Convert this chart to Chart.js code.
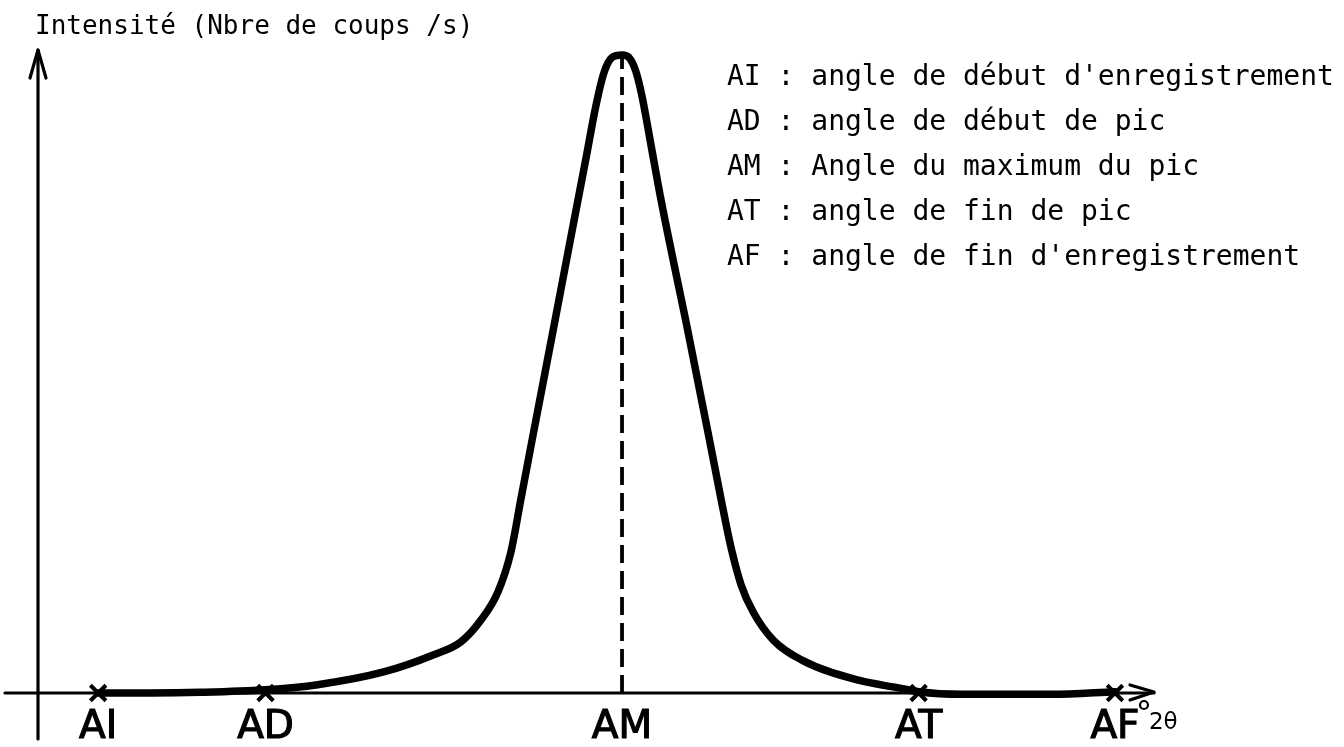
<!DOCTYPE html>
<html lang="fr">
<head>
<meta charset="utf-8">
<title>Profil d'un pic de diffraction</title>
<script src="https://cdn.jsdelivr.net/npm/chart.js@4.4.1/dist/chart.umd.min.js"></script>
<style>
  html, body { margin: 0; padding: 0; background: #ffffff; }
  #wrap { width: 1344px; height: 747px; }
  canvas { display: block; }
</style>
</head>
<body>
<div id="wrap"><canvas id="pic" width="1344" height="747"></canvas></div>
<script>
// Angles repères (2θ, degrés) et leurs noms
const angleNames = ['AI', 'AD', 'AM', 'AT', 'AF'];
const angleValues = [2.16, 8.17, 20.97, 31.62, 38.67];

// Profil du pic : angle 2θ et intensité relative (%)
const profileAngle = [
  2.16, 4.03, 5.83, 8.17, 10.04, 12.41, 14.21, 15.18, 15.90, 16.51,
  16.98, 17.34, 17.77, 18.49, 19.21, 19.68, 20.04, 20.32, 20.61, 20.97,
  21.22, 21.47, 21.69, 22.01, 22.37, 23.35, 24.06, 24.53, 24.89, 25.25,
  25.68, 26.40, 27.41, 29.46, 30.90, 31.62, 33.17, 34.60, 36.40, 38.67
];
const profileIntensity = [
  0.0, 0.0, 0.1, 0.5, 1.3, 3.3, 6.0, 8.0, 11.4, 15.8,
  22.1, 30.4, 40.3, 56.7, 73.2, 83.9, 92.2, 97.2, 99.6, 100.0,
  99.6, 97.4, 93.5, 85.9, 77.3, 56.4, 40.8, 30.3, 22.7, 16.9,
  12.7, 8.3, 5.2, 2.0, 0.8, 0.2, -0.2, -0.2, -0.2, 0.2
];
const peakIntensity = 100;

// Légende des abréviations
const legendLines = [
  "AI : angle de début d'enregistrement",
  "AD : angle de début de pic",
  "AM : Angle du maximum du pic",
  "AT : angle de fin de pic",
  "AF : angle de fin d'enregistrement"
];
const yTitle = 'Intensité (Nbre de coups /s)';
const xUnit = '2θ';

const INK = '#000000';
const MONO = '"DejaVu Sans Mono", "Liberation Mono", monospace';
const SANS = '"DejaVu Sans", "Liberation Sans", sans-serif';

const profilePoints = profileAngle.map((a, i) => ({ x: a, y: profileIntensity[i] }));
const markerPoints = angleValues.filter((_, i) => angleNames[i] !== 'AM').map(a => ({ x: a, y: 0 }));
const amAngle = angleValues[angleNames.indexOf('AM')];
const peakLine = [{ x: amAngle, y: 0 }, { x: amAngle, y: peakIntensity }];

// Axes dessinés à la main, avec flèches
const axesPlugin = {
  id: 'handAxes',
  beforeDatasetsDraw(chart) {
    const { ctx } = chart;
    const xs = chart.scales.x, ys = chart.scales.y;
    const x0 = xs.getPixelForValue(0);
    const y0 = ys.getPixelForValue(0);
    ctx.save();
    ctx.strokeStyle = INK;
    ctx.lineCap = 'round';
    ctx.lineJoin = 'round';
    ctx.lineWidth = 3.2;
    // axe des intensités
    const yTop = ys.top - 5;
    ctx.beginPath();
    ctx.moveTo(x0, chart.height - 8);
    ctx.lineTo(x0, yTop);
    ctx.stroke();
    ctx.beginPath();
    ctx.moveTo(x0 - 8, yTop + 28);
    ctx.lineTo(x0, yTop);
    ctx.lineTo(x0 + 8, yTop + 28);
    ctx.stroke();
    // axe des angles
    const xEnd = xs.right + 2;
    ctx.beginPath();
    ctx.moveTo(5, y0);
    ctx.lineTo(xEnd, y0);
    ctx.stroke();
    ctx.beginPath();
    ctx.moveTo(xEnd - 24, y0 - 8);
    ctx.lineTo(xEnd, y0 - 1);
    ctx.lineTo(xEnd - 24, y0 + 7);
    ctx.stroke();
    ctx.restore();
  }
};

// Textes : titre de l'axe, légende, unité
const textPlugin = {
  id: 'annotations',
  afterDraw(chart) {
    const { ctx } = chart;
    const xs = chart.scales.x, ys = chart.scales.y;
    ctx.save();
    ctx.fillStyle = INK;
    ctx.textBaseline = 'alphabetic';
    ctx.textAlign = 'left';
    ctx.font = '26px ' + MONO;
    ctx.fillText(yTitle, 35, 34);

    ctx.font = '28px ' + MONO;
    legendLines.forEach((line, i) => {
      ctx.fillText(line, 727, 85 + i * 45);
    });

    // unité sur l'axe des angles
    const afX = xs.getPixelForValue(angleValues[4]);
    const y0 = ys.getPixelForValue(0);
    ctx.lineWidth = 2.2;
    ctx.strokeStyle = INK;
    ctx.beginPath();
    ctx.arc(afX + 29, y0 + 12, 4, 0, Math.PI * 2);
    ctx.stroke();
    ctx.font = '23px ' + SANS;
    ctx.fillText(xUnit, afX + 34, y0 + 36);
    ctx.restore();
  }
};

new Chart(document.getElementById('pic'), {
  type: 'scatter',
  data: {
    datasets: [
      {
        label: 'AM',
        data: peakLine,
        showLine: true,
        borderColor: INK,
        borderWidth: 3.8,
        borderDash: [18, 8],
        pointRadius: 0,
        clip: false,
        order: 3
      },
      {
        label: 'Intensité',
        data: profilePoints,
        showLine: true,
        borderColor: INK,
        borderWidth: 7.5,
        cubicInterpolationMode: 'monotone',
        borderCapStyle: 'round',
        borderJoinStyle: 'round',
        pointRadius: 0,
        clip: false,
        order: 2
      },
      {
        label: 'Repères',
        data: markerPoints,
        showLine: false,
        pointStyle: 'crossRot',
        pointRadius: 11,
        borderColor: INK,
        borderWidth: 4,
        clip: false,
        order: 1
      }
    ]
  },
  options: {
    responsive: false,
    animation: false,
    devicePixelRatio: 1,
    layout: { padding: { left: 38, right: 192, top: 55, bottom: 0 } },
    plugins: {
      legend: { display: false },
      tooltip: { enabled: false },
      title: { display: false }
    },
    scales: {
      x: {
        type: 'linear',
        min: 0,
        max: 40,
        grid: { display: false },
        border: { display: false },
        afterFit(scale) { scale.height = 54; },
        afterBuildTicks(scale) {
          scale.ticks = angleValues.map(v => ({ value: v }));
        },
        ticks: {
          autoSkip: false,
          maxRotation: 0,
          padding: 7,
          color: INK,
          textStrokeColor: INK,
          textStrokeWidth: 1.2,
          font: { family: SANS, size: 39, lineHeight: 1 },
          callback(value) {
            const i = angleValues.indexOf(value);
            return i >= 0 ? angleNames[i] : '';
          }
        }
      },
      y: {
        type: 'linear',
        display: false,
        min: 0,
        max: 100
      }
    }
  },
  plugins: [axesPlugin, textPlugin]
});
</script>
</body>
</html>
